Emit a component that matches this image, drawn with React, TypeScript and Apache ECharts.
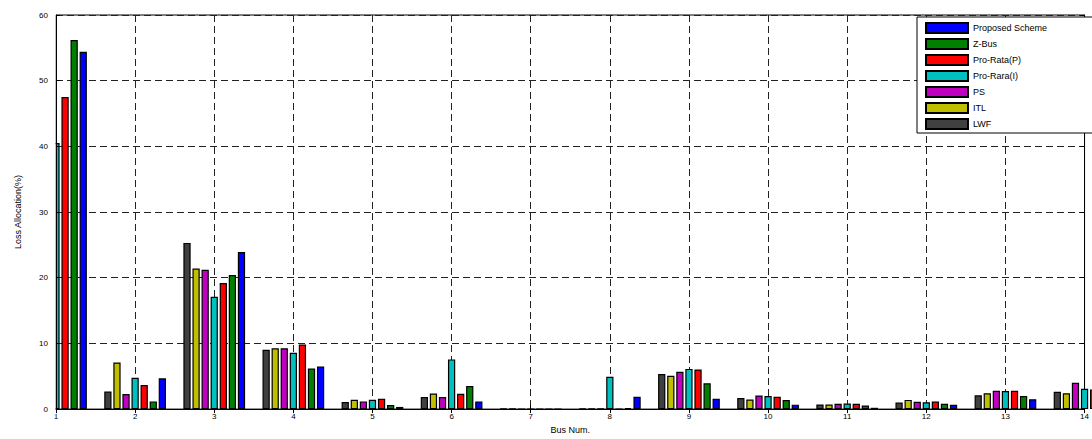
import React, { useEffect, useRef } from "react";
import * as echarts from "echarts";

const busNumbers = [1, 2, 3, 4, 5, 6, 7, 8, 9, 10, 11, 12, 13, 14];
const xTicks = [1, 14];
const yTicks = [0, 60, 10];

const seriesNames = ["LWF", "ITL", "PS", "Pro-Rara(I)", "Pro-Rata(P)", "Z-Bus", "Proposed Scheme"];
const legendLabels = ["Proposed Scheme", "Z-Bus", "Pro-Rata(P)", "Pro-Rara(I)", "PS", "ITL", "LWF"];
const seriesColors = ["#404040", "#bfbf00", "#bf00bf", "#00bfbf", "#ff0000", "#008000", "#0000ff"];

const lwf = [38.5, 2.67, 25.3, 9.03, 1.08, 1.83, 0.08, 0.08, 5.33, 1.68, 0.7, 1.0, 2.1, 2.65];
const itl = [39.5, 7.1, 21.4, 9.27, 1.43, 2.37, 0.08, 0.08, 5.07, 1.47, 0.7, 1.4, 2.4, 2.4];
const ps = [40.0, 2.28, 21.2, 9.27, 1.17, 1.83, 0, 0.05, 5.67, 2.07, 0.8, 1.1, 2.8, 4.0];
const proRaraI = [40.5, 4.77, 17.1, 8.58, 1.43, 7.57, 0, 4.92, 6.12, 1.98, 0.85, 1.05, 2.75, 3.1];
const proRataP = [47.5, 3.67, 19.2, 9.82, 1.58, 2.32, 0, 0, 6.03, 1.88, 0.8, 1.15, 2.8, 3.0];
const zBus = [56.2, 1.17, 20.4, 6.18, 0.63, 3.52, 0, 0.18, 3.93, 1.38, 0.55, 0.8, 2.0, 1.9];
const proposed = [54.4, 4.68, 23.9, 6.48, 0.33, 1.17, 0, 1.87, 1.58, 0.68, 0.2, 0.65, 1.5, 1.2];

const allValues = [lwf, itl, ps, proRaraI, proRataP, zBus, proposed];

const FONT = "'Liberation Sans', Arial, sans-serif";

export default function App() {
  const ref = useRef<HTMLDivElement>(null);

  useEffect(() => {
    if (!ref.current) return;
    const chart = echarts.init(ref.current, null, { renderer: "svg" });

    const gridLine = { show: true, lineStyle: { color: "#222", type: [7, 4], width: 1 } };
    const axisLine = { show: true, lineStyle: { color: "#000", width: 1 } };
    const tickInside = { show: true, inside: true, length: 4, lineStyle: { color: "#000" } };

    chart.setOption({
      animation: false,
      backgroundColor: "#fff",
      grid: {
        left: 56,
        right: 1,
        top: 15,
        bottom: 24,
        show: true,
        borderColor: "#000",
        borderWidth: 1,
        backgroundColor: "transparent",
      },
      // white mask so bars of the half-visible first group are cut at the axis, as in the source
      graphic: {
        elements: [
          {
            type: "rect",
            z: 5,
            shape: { x: 0, y: 0, width: 55.5, height: 415 },
            style: { fill: "#fff" },
            silent: true,
          },
        ],
      },
      legend: {
        data: legendLabels,
        orient: "vertical",
        left: 917,
        top: 17,
        z: 20,
        itemWidth: 42,
        itemHeight: 10,
        itemGap: 4,
        icon: "rect",
        backgroundColor: "#fff",
        borderColor: "#000",
        borderWidth: 1,
        padding: [5, 60, 3, 8],
        textStyle: { fontFamily: FONT, fontSize: 9, color: "#000", lineHeight: 10 },
      },
      xAxis: [
        {
          type: "value",
          min: xTicks[0],
          max: xTicks[1],
          interval: 1,
          name: "Bus Num.",
          nameLocation: "middle",
          nameGap: 14,
          nameTextStyle: { fontFamily: FONT, fontSize: 9, color: "#000" },
          axisLine,
          axisTick: tickInside,
          axisLabel: { fontFamily: FONT, fontSize: 8, color: "#000", margin: 3 },
          splitLine: { show: false },
        },
        {
          type: "value",
          position: "top",
          min: xTicks[0],
          max: xTicks[1],
          interval: 1,
          axisLine,
          axisTick: tickInside,
          axisLabel: { show: false },
          splitLine: gridLine,
        },
      ],
      yAxis: [
        {
          type: "value",
          z: 10,
          min: yTicks[0],
          max: yTicks[1],
          interval: yTicks[2],
          name: "Loss Allocation(%)",
          nameLocation: "middle",
          nameGap: 34,
          nameTextStyle: { fontFamily: FONT, fontSize: 9, color: "#000" },
          axisLine,
          axisTick: tickInside,
          axisLabel: { fontFamily: FONT, fontSize: 8, color: "#000", margin: 8 },
          splitLine: { show: false },
        },
        {
          type: "value",
          position: "right",
          min: yTicks[0],
          max: yTicks[1],
          interval: yTicks[2],
          axisLine,
          axisTick: tickInside,
          axisLabel: { show: false },
          splitLine: gridLine,
        },
      ],
      series: seriesNames.map((name, i) => ({
        name,
        type: "bar",
        xAxisIndex: 0,
        yAxisIndex: 0,
        clip: true,
        barGap: "25%",
        barCategoryGap: "22%",
        itemStyle: { color: seriesColors[i], borderColor: "#000", borderWidth: 1.2 },
        data: busNumbers.map((b, j) => [b, allValues[i][j]]),
      })),
    });

    return () => chart.dispose();
  }, []);

  return (
    <div
      ref={ref}
      style={{ position: "absolute", left: 0, top: 0, width: 1092, height: 439, background: "#fff" }}
    />
  );
}
